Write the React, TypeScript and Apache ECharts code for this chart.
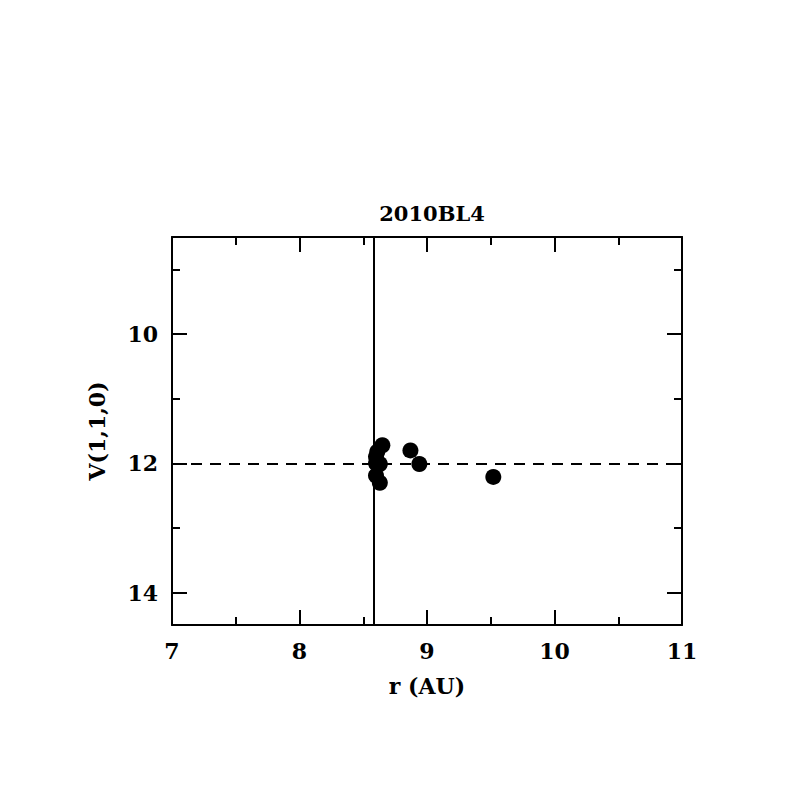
import React, { useEffect, useRef } from "react";
import * as echarts from "echarts";

const titleText = "2010BL4";
const xName = "r (AU)";
const yName = "V(1,1,0)";
const rValues = [8.65, 8.61, 8.6, 8.6, 8.63, 8.6, 8.63, 8.87, 8.94, 9.52];
const vValues = [11.72, 11.82, 11.9, 12.0, 12.01, 12.19, 12.3, 11.8, 12.01, 12.21];
const xMin = 7;
const xMax = 11;
const yMin = 8.5;
const yMax = 14.5;
const yMajorTicks = [10, 12, 14];
const yMinorTicks = [9, 11, 13];
const verticalLineR = 8.58;
const dashedLineV = 12.0;

const FONT = "DejaVu Serif";
const WEIGHT = "bold";

export default function App() {
  const ref = useRef<HTMLDivElement>(null);
  useEffect(() => {
    if (!ref.current) return;
    const chart = echarts.init(ref.current, null, { renderer: "svg" });
    const axisLine = { show: true, lineStyle: { color: "#000", width: 2 } };
    const baseX = {
      type: "value",
      min: xMin,
      max: xMax,
      interval: 1,
      splitLine: { show: false },
      axisLine,
      axisTick: { show: true, inside: true, length: 15, lineStyle: { color: "#000", width: 2 } },
      minorTick: { show: true, splitNumber: 2, length: 8, lineStyle: { color: "#000", width: 2 } },
    };
    const yAxisDef = (pos: string, major: boolean, labels: boolean) => ({
      type: "value",
      position: pos,
      min: yMin,
      max: yMax,
      inverse: true,
      splitLine: { show: false },
      axisLine: major ? axisLine : { show: false },
      axisTick: {
        show: true,
        inside: true,
        length: major ? 15 : 8,
        customValues: major ? yMajorTicks : yMinorTicks,
        lineStyle: { color: "#000", width: 2 },
      },
      axisLabel: labels
        ? { show: true, customValues: yMajorTicks, margin: 14, fontFamily: FONT, fontWeight: WEIGHT, fontSize: 22, color: "#000" }
        : { show: false },
      name: labels ? yName : "",
      nameLocation: "middle",
      nameGap: 64,
      nameTextStyle: { fontFamily: FONT, fontWeight: WEIGHT, fontSize: 22, color: "#000" },
    });
    chart.setOption({
      animation: false,
      backgroundColor: "#fff",
      title: {
        text: titleText,
        left: 427,
        textAlign: "center",
        top: 198,
        textStyle: { fontFamily: FONT, fontSize: 21, fontWeight: WEIGHT, color: "#000" },
      },
      grid: { left: 172, right: 115, top: 237, bottom: 172 },
      xAxis: [
        {
          ...baseX,
          position: "bottom",
          axisLabel: { show: true, margin: 15, fontFamily: FONT, fontWeight: WEIGHT, fontSize: 22, color: "#000" },
          name: xName,
          nameLocation: "middle",
          nameGap: 50,
          nameTextStyle: { fontFamily: FONT, fontWeight: WEIGHT, fontSize: 22, color: "#000" },
        },
        { ...baseX, position: "top", axisLabel: { show: false } },
      ],
      yAxis: [
        yAxisDef("left", true, true),
        yAxisDef("left", false, false),
        yAxisDef("right", true, false),
        yAxisDef("right", false, false),
      ],
      series: [
        {
          type: "scatter",
          xAxisIndex: 0,
          yAxisIndex: 0,
          symbol: "circle",
          symbolSize: 16,
          itemStyle: { color: "#000", opacity: 1 },
          data: rValues.map((r, i) => [r, vValues[i]]),
          markLine: {
            silent: true,
            symbol: "none",
            label: { show: false },
            data: [
              { xAxis: verticalLineR, lineStyle: { color: "#000", width: 2, type: "solid" } },
              { yAxis: dashedLineV, lineStyle: { color: "#000", width: 2, type: [11, 8] } },
            ],
          },
          z: 3,
        },
      ],
    });
    return () => chart.dispose();
  }, []);
  return <div ref={ref} style={{ position: "fixed", left: 0, top: 0, width: 797, height: 797 }} />;
}
